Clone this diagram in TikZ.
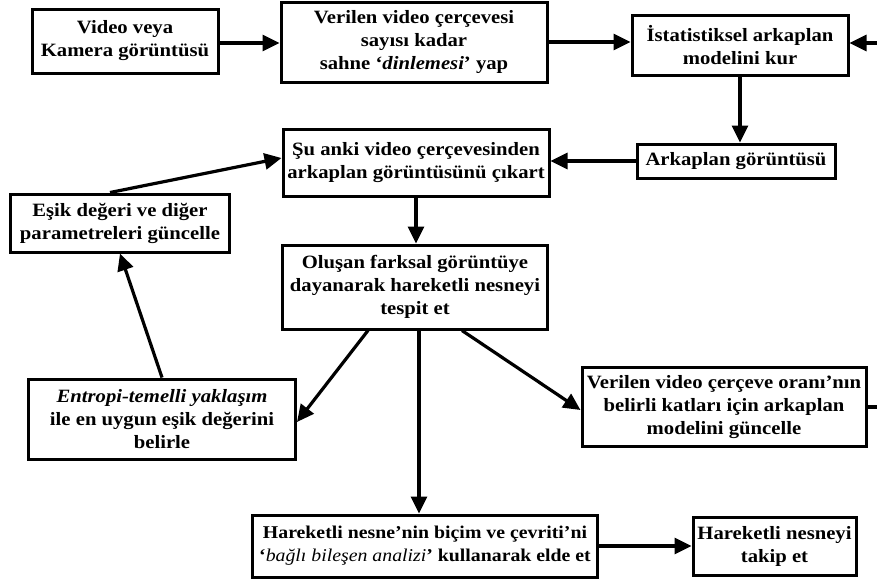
\documentclass[tikz,border=0pt]{standalone}
\usepackage{fontspec}
\setmainfont{Liberation Serif}[FakeStretch=1.1]
\usetikzlibrary{arrows.meta}
\begin{document}
\begin{tikzpicture}[x=1pt,y=-1pt,
  box/.style={draw,line width=3pt,inner sep=0pt,align=center,
    font=\fontsize{18.8}{23}\selectfont\bfseries},
  arr/.style={line width=3.2pt,-{Triangle[length=17pt,width=16pt]}},
  ln/.style={line width=3.2pt}]
\useasboundingbox (0,0) rectangle (877,584);
\node[box,minimum width=186pt,minimum height=64pt] (b1) at (125,41) {Video veya\\Kamera görüntüsü};
\node[box,minimum width=266pt,minimum height=80pt] (b2) at (414,42) {Verilen video çerçevesi\\sayısı kadar\\sahne ‘\textit{dinlemesi}’ yap};
\node[box,minimum width=216pt,minimum height=60pt] (b3) at (740,45) {İstatistiksel arkaplan\\modelini kur};
\node[box,minimum width=198pt,minimum height=34pt] (b4) at (736,161) {Arkaplan görüntüsü};
\node[box,minimum width=266pt,minimum height=67pt] (b5) at (416,163) {Şu anki video çerçevesinden\\arkaplan görüntüsünü çıkart};
\node[box,minimum width=219pt,minimum height=58pt] (b6) at (120,223) {Eşik değeri ve diğer\\parametreleri güncelle};
\node[box,minimum width=265pt,minimum height=84pt] (b7) at (415,287) {Oluşan farksal görüntüye\\dayanarak hareketli nesneyi\\tespit et};
\node[box,minimum width=267pt,minimum height=80pt] (b8) at (162,419) {\textit{Entropi-temelli yaklaşım}\\ile en uygun eşik değerini\\belirle};
\node[box,minimum width=284pt,minimum height=79pt] (b9) at (724,407) {Verilen video çerçeve oranı’nın\\belirli katları için arkaplan\\modelini güncelle};
\node[box,minimum width=345pt,minimum height=62pt,font=\fontsize{18}{23}\selectfont\bfseries] (b10) at (425,546) {Hareketli nesne’nin biçim ve çevriti’ni\\‘{\mdseries\itshape bağlı bileşen analizi}’ kullanarak elde et};
\node[box,minimum width=163pt,minimum height=58pt] (b11) at (774.5,546) {Hareketli nesneyi\\takip et};
\coordinate (r1) at (877,43);
\coordinate (r2) at (877,407);
\draw[arr] ([yshift=-2pt]b1.east) -- ([yshift=-2pt]b1.east -| b2.west);
\draw[arr] (b2.east) -- (b2.east -| b3.west);
\draw[arr] (r1) -- (r1 -| b3.east);
\draw[arr] (b3.south) -- (b3.south |- b4.north);
\draw[arr] (b4.west) -- (b4.west -| b5.east);
\draw[arr] (b5.south) -- (b5.south |- b7.north);
\draw[arr] ([xshift=-10pt]b6.north) -- ([yshift=5pt]b5.west);
\draw[arr] (b8.north) -- (b6.south);
\draw[arr] ([xshift=-47pt]b7.south) -- ([yshift=-3pt]b8.east);
\draw[arr] ([xshift=47pt]b7.south) -- ([yshift=-3pt]b9.west);
\draw[arr] ([xshift=4pt]b7.south) -- ([xshift=4pt]b7.south |- b10.north);
\draw[arr] (b10.east) -- (b10.east -| b11.west);
\draw[ln] (b9.east) -- (r2);
\end{tikzpicture}
\end{document}
